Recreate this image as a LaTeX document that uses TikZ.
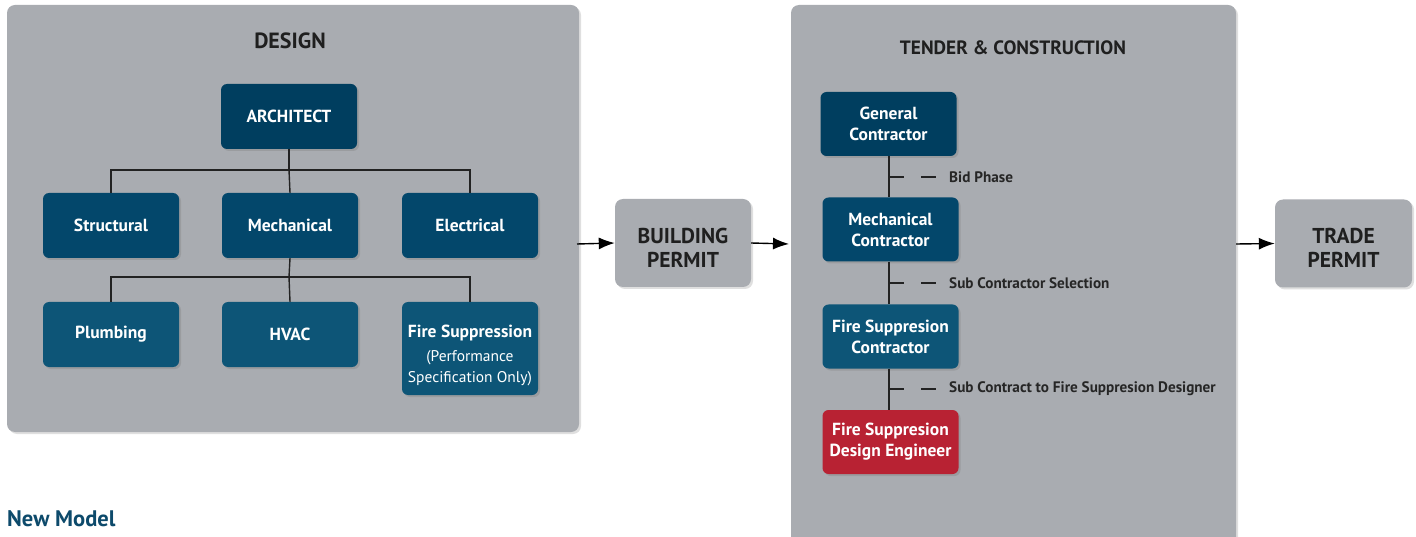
\documentclass[tikz,border=0pt]{standalone}
\usepackage{fontspec}
\setmainfont{PT Sans}
\usetikzlibrary{shadows,arrows.meta}
\definecolor{panel}{HTML}{A9ACB1}
\definecolor{navyA}{HTML}{003E5F}
\definecolor{navyB}{HTML}{03476B}
\definecolor{navyC}{HTML}{0D5577}
\definecolor{redbox}{HTML}{B82233}
\definecolor{linec}{HTML}{222222}
\definecolor{titlec}{HTML}{0D4A6B}
\tikzset{
  panelbox/.style={fill=panel, rounded corners=8pt, drop shadow={opacity=0.25, shadow xshift=2pt, shadow yshift=-2pt}},
  orgbox/.style={rectangle, rounded corners=6pt, minimum width=136pt, minimum height=65pt, text=white, font=\bfseries\fontsize{17.5}{21}\selectfont, align=center, inner sep=2pt, drop shadow={opacity=0.35, shadow xshift=2pt, shadow yshift=-2pt}},
  orgtext/.style={text=white, font=\bfseries\fontsize{17.5}{21}\selectfont, align=center, inner sep=0pt},
  permitbox/.style={rectangle, rounded corners=8pt, fill=panel, minimum width=136pt, minimum height=88pt, drop shadow={opacity=0.25, shadow xshift=2pt, shadow yshift=-2pt}},
  permittext/.style={text=black!88, font=\bfseries\fontsize{21.5}{24}\selectfont, align=center, inner sep=0pt},
  conn/.style={draw=linec, line width=1.4pt},
  flow/.style={draw=black, line width=1.4pt, -{Latex[length=16pt,width=12pt]}},
  phase/.style={anchor=west, font=\bfseries\fontsize{15.2}{18}\selectfont, text=black!85, inner sep=0pt},
  title/.style={font=\bfseries\fontsize{22}{26}\selectfont, text=black!88},
}
\begin{document}
\begin{tikzpicture}[x=1pt,y=-1pt]
\clip (0,0) rectangle (1416,537);
\fill[white] (0,0) rectangle (1416,537);
% panels
\path[panelbox] (7,5) rectangle (579,432);
\path[panelbox] (791,5) rectangle (1236,560);
\node[title] (tdesign) at (290,41) {DESIGN};
\node[title, font=\bfseries\fontsize{19.3}{23}\selectfont] (ttender) at (1013,48) {TENDER \& CONSTRUCTION};
% design org chart
\node[orgbox, fill=navyA] (arch) at (289,116.5) {ARCHITECT};
\node[orgbox, fill=navyB] (struct) at (111,225.5) {Structural};
\node[orgbox, fill=navyB] (mech) at (290,225.5) {Mechanical};
\node[orgbox, fill=navyB] (elec) at (470,225.5) {Electrical};
\node[orgbox, fill=navyC] (plumb) at (111,334.5) {Plumbing};
\node[orgbox, fill=navyC] (hvac) at (290,334.5) {HVAC};
\node[orgbox, fill=navyC, minimum height=93pt] (fire) at (470,348.5) {};
\node[orgtext] (firet) at (470,355) {Fire Suppression\\[3pt]{\mdseries\fontsize{15.5}{20}\selectfont (Performance}\\{\mdseries\fontsize{15.5}{20}\selectfont Specification Only)}};
\coordinate (j1) at (289,170);
\coordinate (j2) at (289,277);
\draw[conn] (arch.south) -- (j1);
\draw[conn] (struct.north) -- (struct.north |- j1) -- (elec.north |- j1) -- (elec.north);
\draw[conn] (j1) -- (mech.north);
\draw[conn] (mech.south) -- (j2);
\draw[conn] (plumb.north) -- (plumb.north |- j2) -- (fire.north |- j2) -- (fire.north);
\draw[conn] (j2) -- (hvac.north);
% permits
\node[permitbox] (bp) at (683,243) {};
\node[permittext] (bpt) at (683,248) {BUILDING\\PERMIT};
\node[permitbox, minimum width=137pt] (tp) at (1343.5,243.5) {};
\node[permittext] (tpt) at (1343.5,248) {TRADE\\PERMIT};
\coordinate (a1) at (577,244);
\coordinate (a2) at (789,244);
\coordinate (a3) at (1236,244);
\draw[flow] (a1) -- (bp.west);
\draw[flow] (bp.east) -- (a2);
\draw[flow] (a3) -- (tp.west);
% tender chain
\node[orgbox, fill=navyA, minimum height=64pt] (gc) at (888.5,124) {General\\Contractor};
\node[orgbox, fill=navyB, minimum height=64pt] (mc) at (890.5,229.5) {Mechanical\\Contractor};
\node[orgbox, fill=navyC, minimum height=64pt] (fc) at (890.5,336.5) {Fire Suppresion\\Contractor};
\node[orgbox, fill=redbox, minimum height=64pt] (fe) at (890.5,442) {Fire Suppresion\\Design Engineer};
\draw[conn] (gc.south -| 889,0) -- (mc.north -| 889,0);
\draw[conn] (mc.south -| 889,0) -- (fc.north -| 889,0);
\draw[conn] (fc.south -| 889,0) -- (fe.north -| 889,0);
\foreach \yy/\nm/\txt in {177/p1/Bid Phase, 283/p2/Sub Contractor Selection, 389/p3/Sub Contract to Fire Suppresion Designer}{
  \draw[conn] (889,\yy) -- (904,\yy);
  \draw[conn] (921,\yy) -- (936,\yy);
  \node[phase] (\nm) at (949,\yy) {\txt};
}
\node[anchor=base west, inner sep=0pt, text=titlec, font=\bfseries\fontsize{22.5}{26}\selectfont] (newmodel) at (7,526) {New Model};
\end{tikzpicture}
\end{document}
